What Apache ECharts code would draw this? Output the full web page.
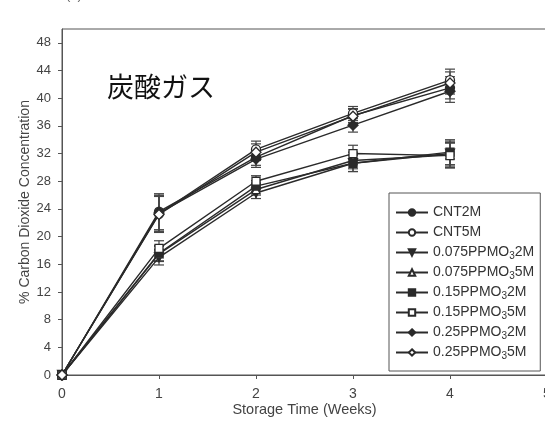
<!DOCTYPE html>
<html>
<head>
<meta charset="utf-8">
<script src="https://cdn.jsdelivr.net/npm/echarts@6/dist/echarts.min.js"></script>
<style>
  html, body { margin: 0; padding: 0; background: #fff; }
  #chart { width: 545px; height: 424px; }
</style>
</head>
<body>
<div id="chart"></div>
<script>
// storage time (weeks)
const weeks = [0, 1, 2, 3, 4]
const yTicks = [0, 4, 8, 12, 16, 20, 24, 28, 32, 36, 40, 44, 48]

// % CO2 per series
const cnt2M = [0, 23.6, 31.5, 37.5, 41.5]
const cnt5M = [0, 23.3, 32.6, 37.8, 42.6]
const ppmo075_2M = [0, 17.0, 26.3, 30.6, 32.0]
const ppmo075_5M = [0, 17.5, 26.8, 31.0, 31.8]
const ppmo15_2M = [0, 17.6, 27.3, 30.6, 32.2]
const ppmo15_5M = [0, 18.3, 28.0, 32.0, 31.7]
const ppmo25_2M = [0, 23.4, 31.2, 36.1, 41.0]
const ppmo25_5M = [0, 23.2, 32.2, 37.4, 42.2]

// error (+/-) for the upper (CNT, 0.25) and lower (0.075, 0.15) groups
const errUpper = [0, 2.6, 1.2, 1.0, 1.6]
const errLower = [0, 1.1, 0.8, 1.2, 1.8]

const names = ['CNT2M', 'CNT5M', '0.075PPMO3 2M', '0.075PPMO3 5M',
  '0.15PPMO3 2M', '0.15PPMO3 5M', '0.25PPMO3 2M', '0.25PPMO3 5M']
const values = [cnt2M, cnt5M, ppmo075_2M, ppmo075_5M, ppmo15_2M, ppmo15_5M, ppmo25_2M, ppmo25_5M]
const errs = [errUpper, errUpper, errLower, errLower, errLower, errLower, errUpper, errUpper]
const symbols = ['circle', 'circle', 'triangle', 'triangle', 'rect', 'rect', 'diamond', 'diamond']
const rotates = [0, 0, 180, 0, 0, 0, 0, 0]
const sizes = [9, 9, 9, 8, 8, 8, 10, 10]
const filled = [true, false, true, false, true, false, true, false]

const ink = '#2a2a2a'

const lineSeries = names.map((n, i) => ({
  name: n,
  type: 'line',
  data: weeks.map((w, j) => [w, values[i][j]]),
  symbol: symbols[i],
  symbolRotate: rotates[i],
  symbolSize: sizes[i],
  showAllSymbol: true,
  z: 3,
  lineStyle: { color: ink, width: 1.4 },
  itemStyle: { color: filled[i] ? ink : '#fff', borderColor: ink, borderWidth: 1.3 }
}))

const errSeries = names.map((n, i) => ({
  name: n + ' err',
  type: 'custom',
  z: 2,
  silent: true,
  data: weeks.map((w, j) => [w, values[i][j] - errs[i][j], values[i][j] + errs[i][j]])
    .filter(d => d[2] - d[1] > 0),
  renderItem: (params, api) => {
    const lo = api.coord([api.value(0), api.value(1)])
    const hi = api.coord([api.value(0), api.value(2)])
    const hw = 5
    const style = { stroke: '#444', lineWidth: 1.2 }
    return {
      type: 'group',
      children: [
        { type: 'line', shape: { x1: lo[0], y1: lo[1], x2: hi[0], y2: hi[1] }, style },
        { type: 'line', shape: { x1: lo[0] - hw, y1: lo[1], x2: lo[0] + hw, y2: lo[1] }, style },
        { type: 'line', shape: { x1: hi[0] - hw, y1: hi[1], x2: hi[0] + hw, y2: hi[1] }, style }
      ]
    }
  }
}))

const chart = echarts.init(document.getElementById('chart'), null, { renderer: 'canvas' })
chart.setOption({
  animation: false,
  backgroundColor: '#fff',
  textStyle: { fontFamily: 'Liberation Sans, Arial, sans-serif' },
  grid: {
    left: 62, top: 29, width: 485, height: 346,
    outerBoundsMode: 'none', containLabel: false,
    show: true, borderColor: '#555', borderWidth: 1
  },
  graphic: [
    { type: 'text', left: 107, top: 73, style: { text: '炭酸ガス', font: '27px "Noto Sans CJK JP"', fill: '#111' } },
    { type: 'text', left: 66, top: -11, style: { text: '(b)', font: '13px Liberation Sans', fill: '#666' } }
  ],
  legend: {
    data: names,
    orient: 'vertical',
    left: 389,
    top: 193,
    width: 152,
    padding: [11, 6, 10, 6],
    itemGap: 3,
    itemWidth: 32,
    itemHeight: 8,
    backgroundColor: '#fff',
    borderColor: '#555',
    borderWidth: 1,
    formatter: n => n.replace('PPMO3 ', 'PPMO{sub|3}'),
    textStyle: {
      color: '#333',
      fontSize: 14,
      lineHeight: 17,
      fontFamily: 'Liberation Sans',
      rich: { sub: { fontSize: 10, color: '#333', verticalAlign: 'bottom', lineHeight: 12, padding: [5, 0, 0, 0] } }
    }
  },
  xAxis: {
    type: 'value',
    min: 0,
    max: 5,
    interval: 1,
    name: 'Storage Time (Weeks)',
    nameLocation: 'middle',
    nameGap: 27,
    nameMoveOverlap: false,
    nameTextStyle: { color: '#444', fontSize: 14.5 },
    splitLine: { show: false },
    axisLine: { lineStyle: { color: '#555' } },
    axisTick: { show: true, length: 4, lineStyle: { color: '#555' } },
    axisLabel: { color: '#444', fontSize: 14, margin: 12 }
  },
  yAxis: {
    type: 'value',
    min: 0,
    max: 50,
    name: '% Carbon Dioxide Concentration',
    nameLocation: 'middle',
    nameGap: 30,
    nameMoveOverlap: false,
    nameTextStyle: { color: '#444', fontSize: 14 },
    splitLine: { show: false },
    axisLine: { show: true, lineStyle: { color: '#555' } },
    axisTick: { show: true, length: 4, customValues: yTicks, lineStyle: { color: '#555' } },
    axisLabel: { color: '#444', fontSize: 13, margin: 11, customValues: yTicks }
  },
  series: [...errSeries, ...lineSeries]
})
</script>
</body>
</html>
